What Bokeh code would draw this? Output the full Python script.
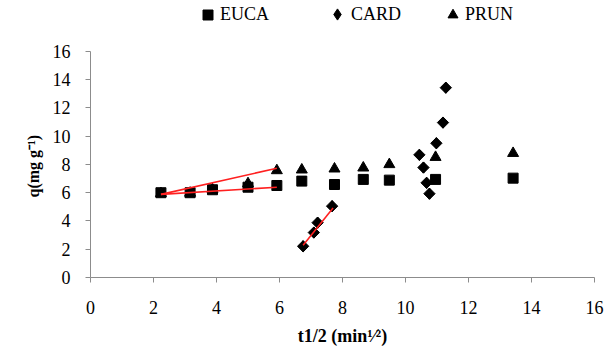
import numpy as np
from bokeh.plotting import figure
from bokeh.models import Range1d, FixedTicker, Legend, LegendItem, Title
from bokeh.embed import file_html
from bokeh.resources import INLINE

# ---- data ----
euca_x = [2.236, 3.162, 3.873, 5.0, 5.916, 6.708, 7.746, 8.660, 9.487, 10.954, 13.416]
euca_y = [6.00, 6.00, 6.21, 6.39, 6.51, 6.82, 6.58, 6.94, 6.89, 6.94, 7.03]

card_x = [6.75, 7.09, 7.21, 7.67, 10.44, 10.57, 10.67, 10.76, 10.98, 11.19, 11.28]
card_y = [2.21, 3.18, 3.88, 5.05, 8.68, 7.78, 6.70, 5.93, 9.50, 10.96, 13.43]

prun_x = [2.236, 3.162, 3.873, 5.0, 5.916, 6.708, 7.746, 8.660, 9.487, 10.954, 13.416]
prun_y = [5.95, 5.98, 6.22, 6.65, 7.57, 7.62, 7.69, 7.76, 8.00, 8.51, 8.79]

# linear-fit segments (intraparticle diffusion stage)
fit_euca_x = [2.236, 5.916]
fit_euca_y = [5.88, 6.39]
fit_prun_x = [2.236, 5.916]
fit_prun_y = [5.88, 7.73]
fit_card_x = [6.75, 7.70]
fit_card_y = [2.28, 4.91]

ticks = [0, 2, 4, 6, 8, 10, 12, 14, 16]
x_title = "t1/2 (min\u00b9\u2044\u00b2)"
y_title = "q(mg g\u207b\u00b9)"

FONT = "Liberation Serif"
AXIS_GREY = "#8c8c8c"

# frame reaches to the top of the canvas so the legend (drawn in the frame) is not clipped;
# the y axis itself is bounded to 0..16
p = figure(width=610, height=352, output_backend="svg", toolbar_location=None,
           x_range=Range1d(0, 16), y_range=Range1d(0, 19.6),
           min_border_left=90, min_border_right=16, min_border_top=0,
           min_border_bottom=75)
p.outline_line_color = None
p.background_fill_color = "white"
p.border_fill_color = "white"
p.xgrid.visible = False
p.ygrid.visible = False

for ax in (p.xaxis[0], p.yaxis[0]):
    ax.ticker = FixedTicker(ticks=ticks)
    ax.axis_line_color = AXIS_GREY
    ax.major_tick_line_color = AXIS_GREY
    ax.minor_tick_line_color = None
    ax.major_tick_out = 5
    ax.major_tick_in = 0
    ax.major_label_text_font = FONT
    ax.major_label_text_font_size = "18px"
    ax.major_label_text_color = "black"
    ax.axis_label_text_font = FONT
    ax.axis_label_text_font_style = "bold"
    ax.axis_label_text_color = "black"
p.yaxis.bounds = (0, 16)
p.yaxis.major_label_standoff = 15
p.xaxis.major_label_standoff = 18
p.xaxis.axis_label = x_title
p.xaxis.axis_label_text_font_size = "18px"
p.xaxis.axis_label_standoff = 9

# y title as a side-panel title, starting 80 px above the frame bottom
p.add_layout(Title(text=y_title, align="left", offset=80, standoff=15,
                   text_font=FONT, text_font_style="bold", text_font_size="16px",
                   text_color="black"), "left")

r_prun = p.scatter(prun_x, prun_y, marker="triangle", size=11, color="black")
r_euca = p.scatter(euca_x, euca_y, marker="square", size=10, color="black")
# diamond glyph used for the legend key; hidden beneath the rotated-square markers
r_card_key = p.scatter(card_x, card_y, marker="diamond", size=11, color="black")
r_card = p.scatter(card_x, card_y, marker="square", angle=np.pi / 4, size=8, color="black")

p.line(fit_euca_x, fit_euca_y, line_color="#ff2020", line_width=1.6)
p.line(fit_prun_x, fit_prun_y, line_color="#ff2020", line_width=1.6)
p.line(fit_card_x, fit_card_y, line_color="#ff2020", line_width=1.6)

def add_legend(label, renderer, x, y, gw, gh, standoff):
    lg = Legend(items=[LegendItem(label=label, renderers=[renderer])],
                location=(x, y), orientation="horizontal",
                glyph_width=gw, glyph_height=gh, label_height=gh,
                label_standoff=standoff, padding=0, margin=0, spacing=0,
                border_line_color=None, background_fill_alpha=0,
                label_text_font=FONT, label_text_font_size="18px",
                label_text_color="black")
    p.add_layout(lg, "center")

add_legend("EUCA", r_euca, 105, 250, 25, 25, -3)
add_legend("CARD", r_card_key, 233, 249, 28, 28, -6)
add_legend("PRUN", r_prun, 350, 250, 25, 25, -7)

open("out.html", "w").write(file_html(p, INLINE))
